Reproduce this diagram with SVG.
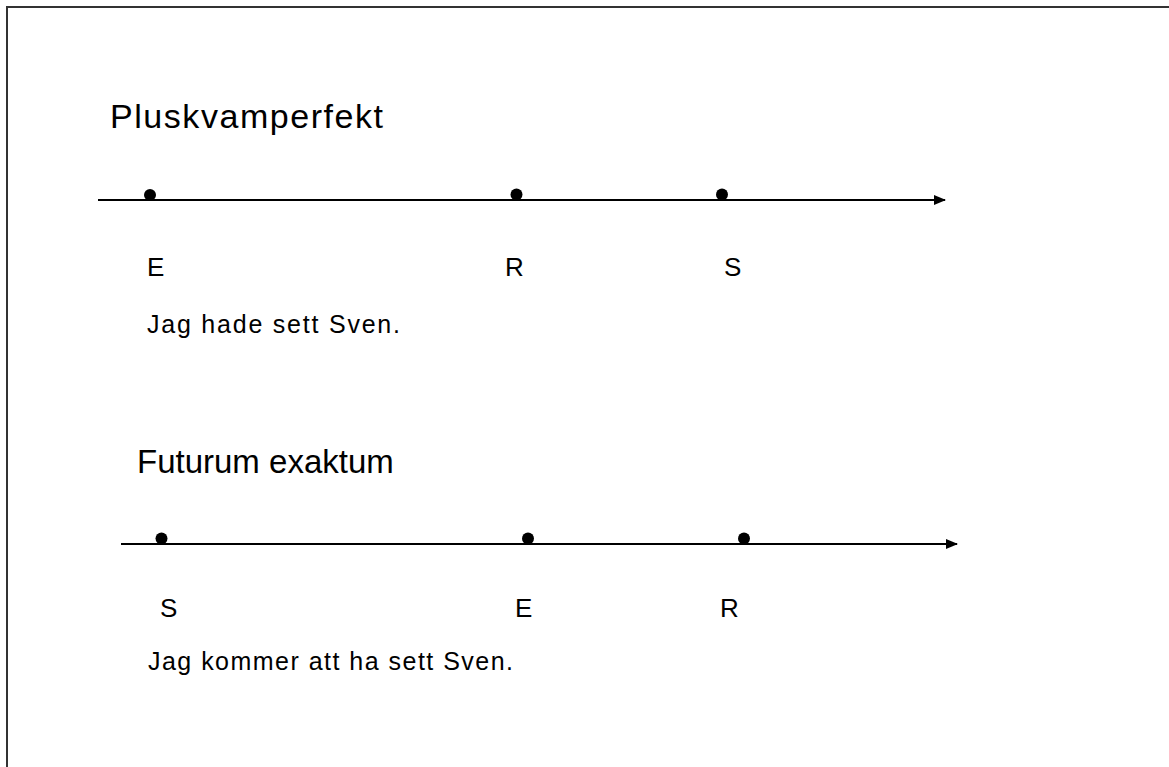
<svg xmlns="http://www.w3.org/2000/svg" width="1169" height="767" viewBox="0 0 1169 767">
<defs>
<style>
text{font-family:"Liberation Sans",Arial,sans-serif;fill:#000}
.title{font-size:34px}
.lbl{font-size:26px}
.sent{font-size:25px}
.axis{stroke:#000;stroke-width:2;fill:none}
.dot{fill:#000}
</style>
<marker id="arr" markerWidth="12" markerHeight="10" refX="11" refY="5" orient="auto" markerUnits="userSpaceOnUse">
<path d="M0,0 L12,5 L0,10 Z" fill="#000"/>
</marker>
</defs>
<rect width="1169" height="767" fill="#fff"/>
<path d="M7,767 L7,7 L1169,7" stroke="#333" stroke-width="2" fill="none"/>
<g id="connectors">
<line class="axis" x1="98" y1="200" x2="945" y2="200" marker-end="url(#arr)"/>
<line class="axis" x1="121" y1="544" x2="957" y2="544" marker-end="url(#arr)"/>
</g>
<g id="pluskvamperfekt">
<text class="title" x="110" y="128" textLength="273">Pluskvamperfekt</text>
<circle class="dot" cx="150" cy="195" r="6"/>
<circle class="dot" cx="516.5" cy="194.5" r="6"/>
<circle class="dot" cx="722" cy="194.5" r="6"/>
<text class="lbl" x="147" y="276">E</text>
<text class="lbl" x="505" y="276">R</text>
<text class="lbl" x="724" y="276">S</text>
<text class="sent" x="147" y="333" textLength="253">Jag hade sett Sven.</text>
</g>
<g id="futurum">
<text class="title" x="137" y="473" style="font-size:33px">Futurum exaktum</text>
<circle class="dot" cx="161.5" cy="538.5" r="6"/>
<circle class="dot" cx="528" cy="538.5" r="6"/>
<circle class="dot" cx="744" cy="538.5" r="6"/>
<text class="lbl" x="160" y="617">S</text>
<text class="lbl" x="515" y="617">E</text>
<text class="lbl" x="720" y="617">R</text>
<text class="sent" x="148" y="670" textLength="365">Jag kommer att ha sett Sven.</text>
</g>
</svg>
